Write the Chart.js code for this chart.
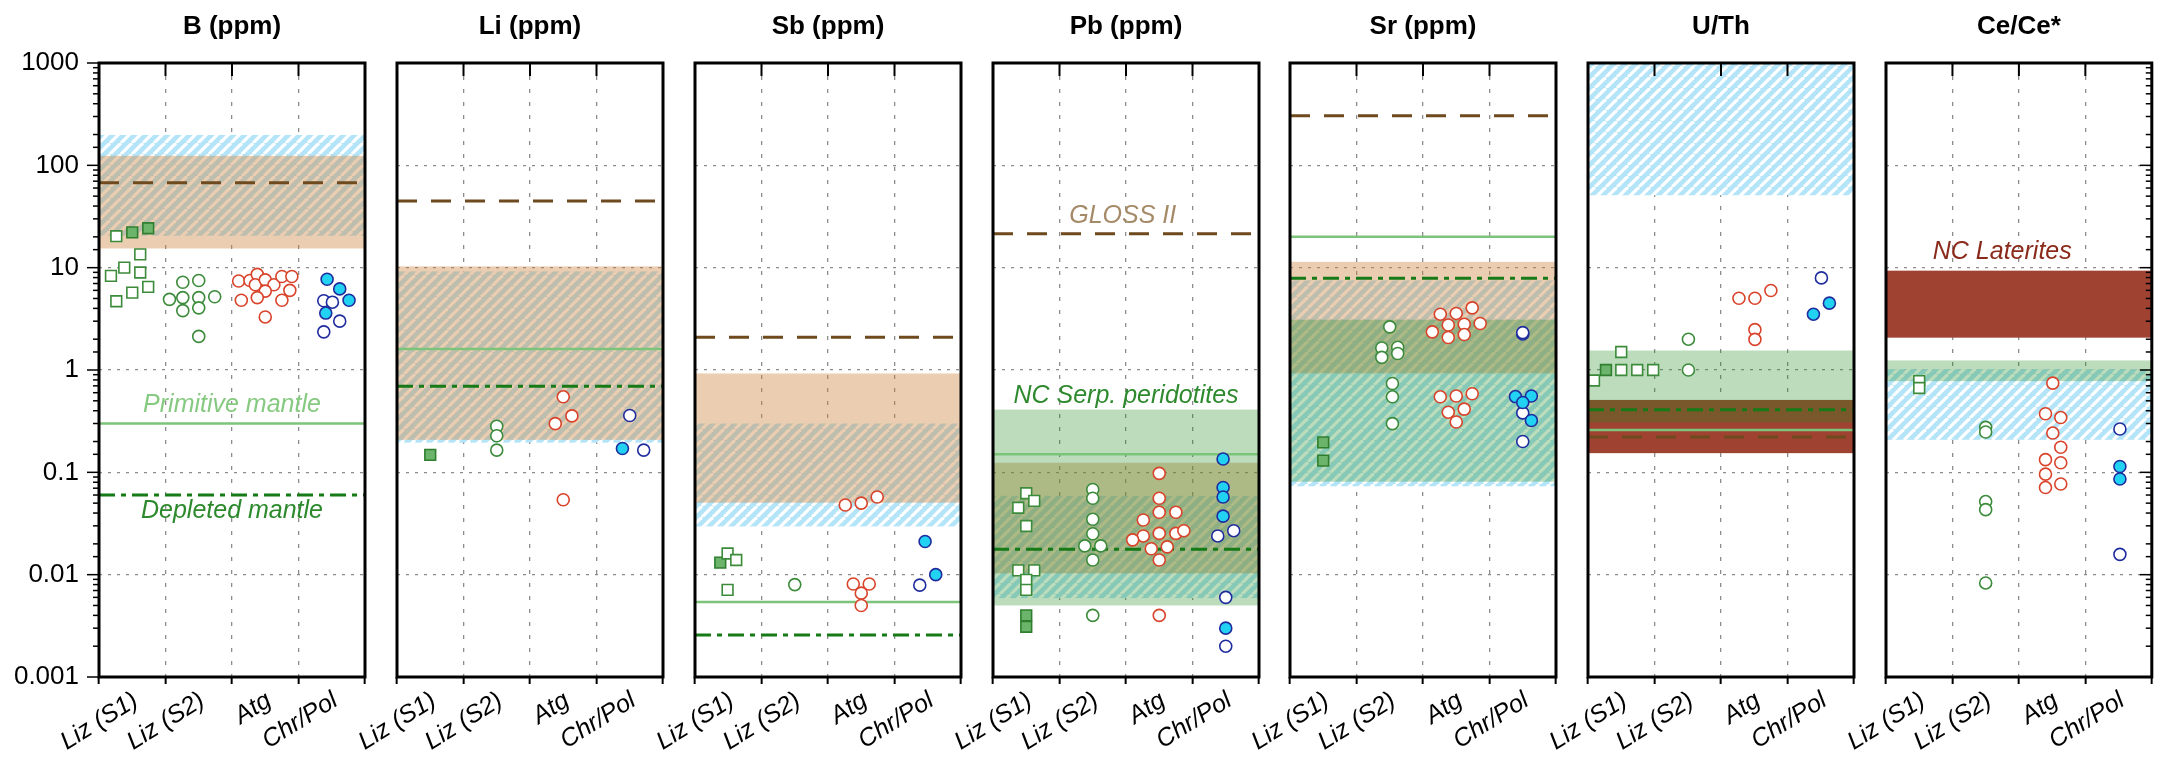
<!DOCTYPE html>
<html>
<head>
<meta charset="utf-8">
<script src="https://cdn.jsdelivr.net/npm/chart.js@4"></script>
<style>
  html, body { margin: 0; padding: 0; background: #fff; }
  #wrap { position: relative; width: 2161px; height: 758px; overflow: hidden; }
  #wrap canvas { position: absolute; top: 0; }
</style>
</head>
<body>
<div id="wrap"></div>
<script>
const categories = ['Liz (S1)', 'Liz (S2)', 'Atg', 'Chr/Pol'];
const titles = ['B (ppm)', 'Li (ppm)', 'Sb (ppm)', 'Pb (ppm)', 'Sr (ppm)', 'U/Th', 'Ce/Ce*'];
const yTickLabels = ['0.001', '0.01', '0.1', '1', '10', '100', '1000'];

// reference ranges: [kind, low, high]
const bBands = [['blue', 20.5, 198], ['tan', 15.4, 124]];
const liBands = [['blue', 0.195, 9.2], ['tan', 0.208, 10.3]];
const sbBands = [['blue', 0.0296, 0.30], ['tan', 0.0505, 0.925]];
const pbBands = [['blue', 0.0059, 0.059], ['tan', 0.0103, 0.124], ['green', 0.005, 0.41]];
const srBands = [['blue', 0.073, 7.5], ['tan', 0.93, 11.4], ['green', 0.081, 3.1]];
const uthBands = [['blue', 51, 1000], ['red', 0.154, 0.51], ['green', 0.307, 1.55]];
const ceBands = [['red', 2.07, 9.35], ['blue', 0.208, 1.02], ['green', 0.778, 1.24]];

// reference lines: [kind, value]  gloss = GLOSS II, prim = primitive mantle, depl = depleted mantle
const bLines = [['gloss', 67.6], ['prim', 0.30], ['depl', 0.06]];
const liLines = [['gloss', 44.8], ['prim', 1.60], ['depl', 0.695]];
const sbLines = [['gloss', 2.09], ['prim', 0.00542], ['depl', 0.00257]];
const pbLines = [['gloss', 21.4], ['prim', 0.150], ['depl', 0.0177]];
const srLines = [['gloss', 305], ['prim', 20], ['depl', 7.87]];
const uthLines = [['gloss', 0.221], ['prim', 0.259], ['depl', 0.41]];
const ceLines = [];

// annotations: [text, kind, x, y]
const bNotes = [['Primitive mantle', 'prim', 2.0, 0.45], ['Depleted mantle', 'depl', 2.0, 0.0414]];
const pbNotes = [['GLOSS II', 'gloss', 1.95, 32], ['NC Serp. peridotites', 'serp', 2.0, 0.561]];
const ceNotes = [['NC Laterites', 'lat', 1.75, 14.1]];

// samples: [x position within categories (0-4), value]
const bS1 = [[0.26, 20.3], [0.62, 13.5], [0.38, 10.0], [0.18, 8.3], [0.62, 8.96], [0.74, 6.5], [0.5, 5.7], [0.26, 4.7]];
const bS1f = [[0.5, 22.1], [0.74, 24.3]];
const bS2 = [[1.26, 7.2], [1.5, 7.5], [1.06, 4.9], [1.26, 5.1], [1.5, 5.1], [1.74, 5.2], [1.26, 3.8], [1.5, 4.05], [1.5, 2.13]];
const bAtg = [[2.1, 7.4], [2.27, 7.5], [2.38, 8.6], [2.35, 6.8], [2.5, 7.6], [2.63, 6.8], [2.75, 8.2], [2.9, 8.2], [2.87, 6.0], [2.5, 5.9], [2.14, 4.8], [2.38, 5.1], [2.75, 4.8], [2.5, 3.3]];
const bCp = [[3.38, 4.75], [3.51, 4.6], [3.62, 3.0], [3.38, 2.36]];
const bCpf = [[3.43, 7.7], [3.62, 6.2], [3.76, 4.8], [3.41, 3.6]];

const liS1 = [];
const liS1f = [[0.5, 0.148]];
const liS2 = [[1.5, 0.282], [1.5, 0.228], [1.5, 0.165]];
const liAtg = [[2.5, 0.547], [2.63, 0.356], [2.38, 0.299], [2.5, 0.054]];
const liCp = [[3.5, 0.359], [3.71, 0.165]];
const liCpf = [[3.39, 0.171]];

const sbS1 = [[0.49, 0.0161], [0.62, 0.0139], [0.49, 0.0071]];
const sbS1f = [[0.38, 0.0131]];
const sbS2 = [[1.5, 0.0080]];
const sbAtg = [[2.26, 0.0479], [2.5, 0.050], [2.74, 0.0574], [2.38, 0.0081], [2.62, 0.0081], [2.5, 0.0066], [2.5, 0.0050]];
const sbCp = [[3.38, 0.0079]];
const sbCpf = [[3.46, 0.0211], [3.62, 0.010]];

const pbS1 = [[0.5, 0.0625], [0.62, 0.0526], [0.38, 0.0451], [0.5, 0.0299], [0.38, 0.011], [0.62, 0.011], [0.5, 0.0089], [0.5, 0.0071]];
const pbS1f = [[0.5, 0.0040], [0.5, 0.0031]];
const pbS2 = [[1.5, 0.068], [1.5, 0.0558], [1.5, 0.0348], [1.5, 0.0251], [1.38, 0.0191], [1.62, 0.0191], [1.5, 0.0139], [1.5, 0.0040]];
const pbAtg = [[2.5, 0.0977], [2.5, 0.0558], [2.5, 0.0407], [2.75, 0.0407], [2.26, 0.0342], [2.5, 0.0253], [2.75, 0.0253], [2.87, 0.0269], [2.26, 0.0239], [2.1, 0.0219], [2.38, 0.0179], [2.62, 0.0187], [2.5, 0.0139], [2.5, 0.0040]];
const pbCp = [[3.38, 0.0239], [3.62, 0.0269], [3.5, 0.0060], [3.5, 0.0020]];
const pbCpf = [[3.46, 0.135], [3.46, 0.0711], [3.46, 0.0574], [3.46, 0.0373], [3.5, 0.0030]];

const srS1 = [];
const srS1f = [[0.5, 0.196], [0.5, 0.130]];
const srS2 = [[1.5, 2.64], [1.38, 1.64], [1.62, 1.67], [1.38, 1.33], [1.62, 1.45], [1.54, 0.738], [1.54, 0.547], [1.54, 0.299]];
const srAtg = [[2.26, 3.51], [2.5, 3.57], [2.74, 4.05], [2.38, 2.75], [2.62, 2.8], [2.86, 2.85], [2.14, 2.36], [2.38, 2.08], [2.62, 2.22], [2.26, 0.547], [2.5, 0.557], [2.74, 0.586], [2.38, 0.387], [2.62, 0.415], [2.5, 0.31]];
const srCp = [[3.5, 2.25], [3.5, 2.32], [3.5, 0.381], [3.5, 0.20]];
const srCpf = [[3.39, 0.55], [3.63, 0.557], [3.5, 0.481], [3.63, 0.321]];

const uS1 = [[0.09, 0.79], [0.5, 1.0], [0.74, 1.0], [0.98, 1.0], [0.5, 1.5]];
const uS1f = [[0.27, 1.0]];
const uS2 = [[1.51, 2.0], [1.51, 1.0]];
const uAtg = [[2.27, 5.03], [2.51, 5.03], [2.75, 5.98], [2.51, 2.48], [2.51, 1.99]];
const uCp = [[3.51, 7.94]];
const uCpf = [[3.63, 4.5], [3.39, 3.51]];

const ceS1 = [[0.5, 0.778], [0.5, 0.667]];
const ceS1f = [];
const ceS2 = [[1.5, 0.275], [1.5, 0.248], [1.5, 0.0518], [1.5, 0.0432], [1.5, 0.0083]];
const ceAtg = [[2.51, 0.745], [2.4, 0.374], [2.63, 0.343], [2.51, 0.242], [2.63, 0.176], [2.4, 0.133], [2.63, 0.124], [2.4, 0.096], [2.4, 0.071], [2.63, 0.077]];
const ceCp = [[3.52, 0.265], [3.52, 0.0158]];
const ceCpf = [[3.52, 0.114], [3.52, 0.086]];

const panels = [
  { bands: bBands, lines: bLines, notes: bNotes, series: [bS1, bS1f, bS2, bAtg, bCpf, bCp] },
  { bands: liBands, lines: liLines, notes: [], series: [liS1, liS1f, liS2, liAtg, liCpf, liCp] },
  { bands: sbBands, lines: sbLines, notes: [], series: [sbS1, sbS1f, sbS2, sbAtg, sbCpf, sbCp] },
  { bands: pbBands, lines: pbLines, notes: pbNotes, series: [pbS1, pbS1f, pbS2, pbAtg, pbCpf, pbCp] },
  { bands: srBands, lines: srLines, notes: [], series: [srS1, srS1f, srS2, srAtg, srCpf, srCp] },
  { bands: uthBands, lines: uthLines, notes: [], series: [uS1, uS1f, uS2, uAtg, uCpf, uCp] },
  { bands: ceBands, lines: ceLines, notes: ceNotes, series: [ceS1, ceS1f, ceS2, ceAtg, ceCpf, ceCp] }
];

// ---- styles ----
const FONT = '"Liberation Sans", Arial, Helvetica, sans-serif';
const seriesStyle = [
  { pointStyle: 'rect', radius: 7.6, bg: '#ffffff', border: '#3b8b3b' },
  { pointStyle: 'rect', radius: 7.6, bg: '#6cb36c', border: '#2f7f2f' },
  { pointStyle: 'circle', radius: 6, bg: '#ffffff', border: '#3b8b3b' },
  { pointStyle: 'circle', radius: 6, bg: '#ffffff', border: '#d9432a' },
  { pointStyle: 'circle', radius: 6, bg: '#22d2f2', border: '#1f2c9e' },
  { pointStyle: 'circle', radius: 6, bg: '#ffffff', border: '#1f2c9e' }
];
const bandOrder = ['blue', 'red', 'tan', 'green'];
const bandColor = { tan: 'rgba(205,133,63,0.4)', green: 'rgba(34,139,34,0.3)', red: '#a04232' };
const lineStyle = {
  gloss: { color: '#6e4a1e', width: 3, dash: [20, 14] },
  prim: { color: '#7cc47a', width: 2.5, dash: [] },
  depl: { color: '#167a16', width: 3, dash: [16, 6, 5, 6] }
};
const noteColor = { prim: '#86c980', depl: '#2c8a2c', gloss: '#a58a68', serp: '#2f8a2f', lat: '#8a2a1a' };

const PLOT_W = 266, PLOT_TOP = 63, PLOT_BOTTOM = 677, H = 758;
const panelLeft = [99, 397, 695, 993, 1290, 1588, 1886];

const isDecade = v => { const l = Math.log10(v); return Math.abs(l - Math.round(l)) < 1e-6; };

let hatchTile = null;
function hatch(ctx) {
  if (!hatchTile) {
    const s = 11;
    hatchTile = document.createElement('canvas');
    hatchTile.width = s; hatchTile.height = s;
    const t = hatchTile.getContext('2d');
    t.fillStyle = '#b4e4f8';
    t.fillRect(0, 0, s, s);
    t.strokeStyle = '#ffffff';
    t.lineWidth = 3.2;
    for (const k of [-1, 0, 1]) {
      t.beginPath();
      t.moveTo(k * s, s);
      t.lineTo(k * s + s, 0);
      t.stroke();
    }
  }
  return ctx.createPattern(hatchTile, 'repeat');
}

const deco = {
  id: 'panelDeco',
  beforeDatasetsDraw(chart, args, o) {
    const { ctx, chartArea: a } = chart;
    const x = chart.scales.x, y = chart.scales.y;
    const p = o.panel;
    ctx.save();
    ctx.beginPath();
    ctx.rect(a.left, a.top, a.right - a.left, a.bottom - a.top);
    ctx.clip();
    bandOrder.forEach(kind => {
      p.bands.filter(b => b[0] === kind).forEach(([k, lo, hi]) => {
        const top = y.getPixelForValue(hi), bot = y.getPixelForValue(lo);
        ctx.fillStyle = k === 'blue' ? hatch(ctx) : bandColor[k];
        ctx.fillRect(a.left, top, a.right - a.left, bot - top);
      });
    });
    p.lines.forEach(([k, v]) => {
      const st = lineStyle[k];
      const yy = y.getPixelForValue(v);
      ctx.beginPath();
      ctx.setLineDash(st.dash);
      ctx.strokeStyle = st.color;
      ctx.lineWidth = st.width;
      ctx.moveTo(a.left, yy);
      ctx.lineTo(a.right, yy);
      ctx.stroke();
    });
    ctx.setLineDash([]);
    ctx.font = 'italic 25px ' + FONT;
    ctx.textAlign = 'center';
    ctx.textBaseline = 'middle';
    p.notes.forEach(([t, k, xv, yv]) => {
      ctx.fillStyle = noteColor[k];
      ctx.fillText(t, x.getPixelForValue(xv), y.getPixelForValue(yv));
    });
    ctx.restore();
  },
  afterDraw(chart, args, o) {
    const { ctx, chartArea: a } = chart;
    const x = chart.scales.x, y = chart.scales.y;
    ctx.save();
    ctx.strokeStyle = '#000';
    // ticks at the category boundaries, top edge, pointing in
    ctx.lineWidth = 2;
    [1, 2, 3].forEach(v => {
      const px = x.getPixelForValue(v);
      ctx.beginPath();
      ctx.moveTo(px, a.top);
      ctx.lineTo(px, a.top + 13);
      ctx.stroke();
    });
    // log ticks: outside on the first panel, inside on the right of the last one
    if (o.index === 0 || o.index === 6) {
      ctx.lineWidth = 1.5;
      y.ticks.forEach(t => {
        const py = y.getPixelForValue(t.value);
        const len = isDecade(t.value) ? 12 : 6;
        ctx.beginPath();
        if (o.index === 0) { ctx.moveTo(a.left - len, py); ctx.lineTo(a.left, py); }
        else { ctx.moveTo(a.right - len, py); ctx.lineTo(a.right, py); }
        ctx.stroke();
      });
    }
    ctx.lineWidth = 3;
    ctx.strokeRect(a.left, a.top, a.right - a.left, a.bottom - a.top);
    ctx.fillStyle = '#000';
    ctx.font = 'bold 26px ' + FONT;
    ctx.textAlign = 'center';
    ctx.textBaseline = 'middle';
    ctx.fillText(titles[o.index], (a.left + a.right) / 2, 27);
    ctx.restore();
  }
};

const wrap = document.getElementById('wrap');

panels.forEach((p, i) => {
  const padL = i === 0 ? 99 : 70;
  const padR = i === 6 ? 9 : 40;
  const cv = document.createElement('canvas');
  cv.width = padL + PLOT_W + padR;
  cv.height = H;
  cv.style.left = (panelLeft[i] - padL) + 'px';
  cv.style.width = cv.width + 'px';
  cv.style.height = H + 'px';
  wrap.appendChild(cv);

  const datasets = p.series.map((pts, k) => ({
    data: pts.map(([xv, yv]) => ({ x: xv, y: yv })),
    pointStyle: seriesStyle[k].pointStyle,
    pointRadius: seriesStyle[k].radius,
    pointBackgroundColor: seriesStyle[k].bg,
    pointBorderColor: seriesStyle[k].border,
    pointBorderWidth: 1.6,
    showLine: false
  }));

  new Chart(cv, {
    type: 'scatter',
    data: { datasets },
    options: {
      responsive: false,
      animation: false,
      devicePixelRatio: 1,
      layout: { padding: { top: PLOT_TOP, right: padR, left: 0, bottom: 0 } },
      plugins: {
        legend: { display: false },
        tooltip: { enabled: false },
        panelDeco: { panel: p, index: i }
      },
      scales: {
        x: {
          type: 'linear',
          min: 0,
          max: 4,
          afterFit: s => { s.height = H - PLOT_BOTTOM; s.paddingLeft = 0; s.paddingRight = 0; },
          ticks: {
            stepSize: 1,
            autoSkip: false,
            minRotation: 32,
            maxRotation: 32,
            labelOffset: 37,
            padding: 4,
            color: '#000',
            font: { family: FONT, size: 25, style: 'italic', lineHeight: 1 },
            callback: v => categories[v] || ''
          },
          grid: {
            color: c => (c.tick && c.tick.value > 0 && c.tick.value < 4) ? '#8c8c8c' : 'rgba(0,0,0,0)',
            lineWidth: 1.3,
            tickColor: '#000',
            tickLength: 7,
            tickWidth: 2
          },
          border: { display: false, dash: [4, 9] }
        },
        y: {
          type: 'logarithmic',
          min: 0.001,
          max: 1000,
          afterFit: s => { s.width = padL; s.paddingTop = 0; s.paddingBottom = 0; },
          ticks: {
            display: i === 0,
            autoSkip: false,
            padding: 20,
            color: '#000',
            font: { family: FONT, size: 26 },
            callback: v => isDecade(v) ? yTickLabels[Math.round(Math.log10(v)) + 3] : ''
          },
          grid: {
            color: c => (c.tick && isDecade(c.tick.value)) ? '#8c8c8c' : 'rgba(0,0,0,0)',
            lineWidth: 1.3,
            drawTicks: false
          },
          border: { display: false, dash: [3, 6] }
        }
      }
    },
    plugins: [deco]
  });
});
</script>
</body>
</html>
